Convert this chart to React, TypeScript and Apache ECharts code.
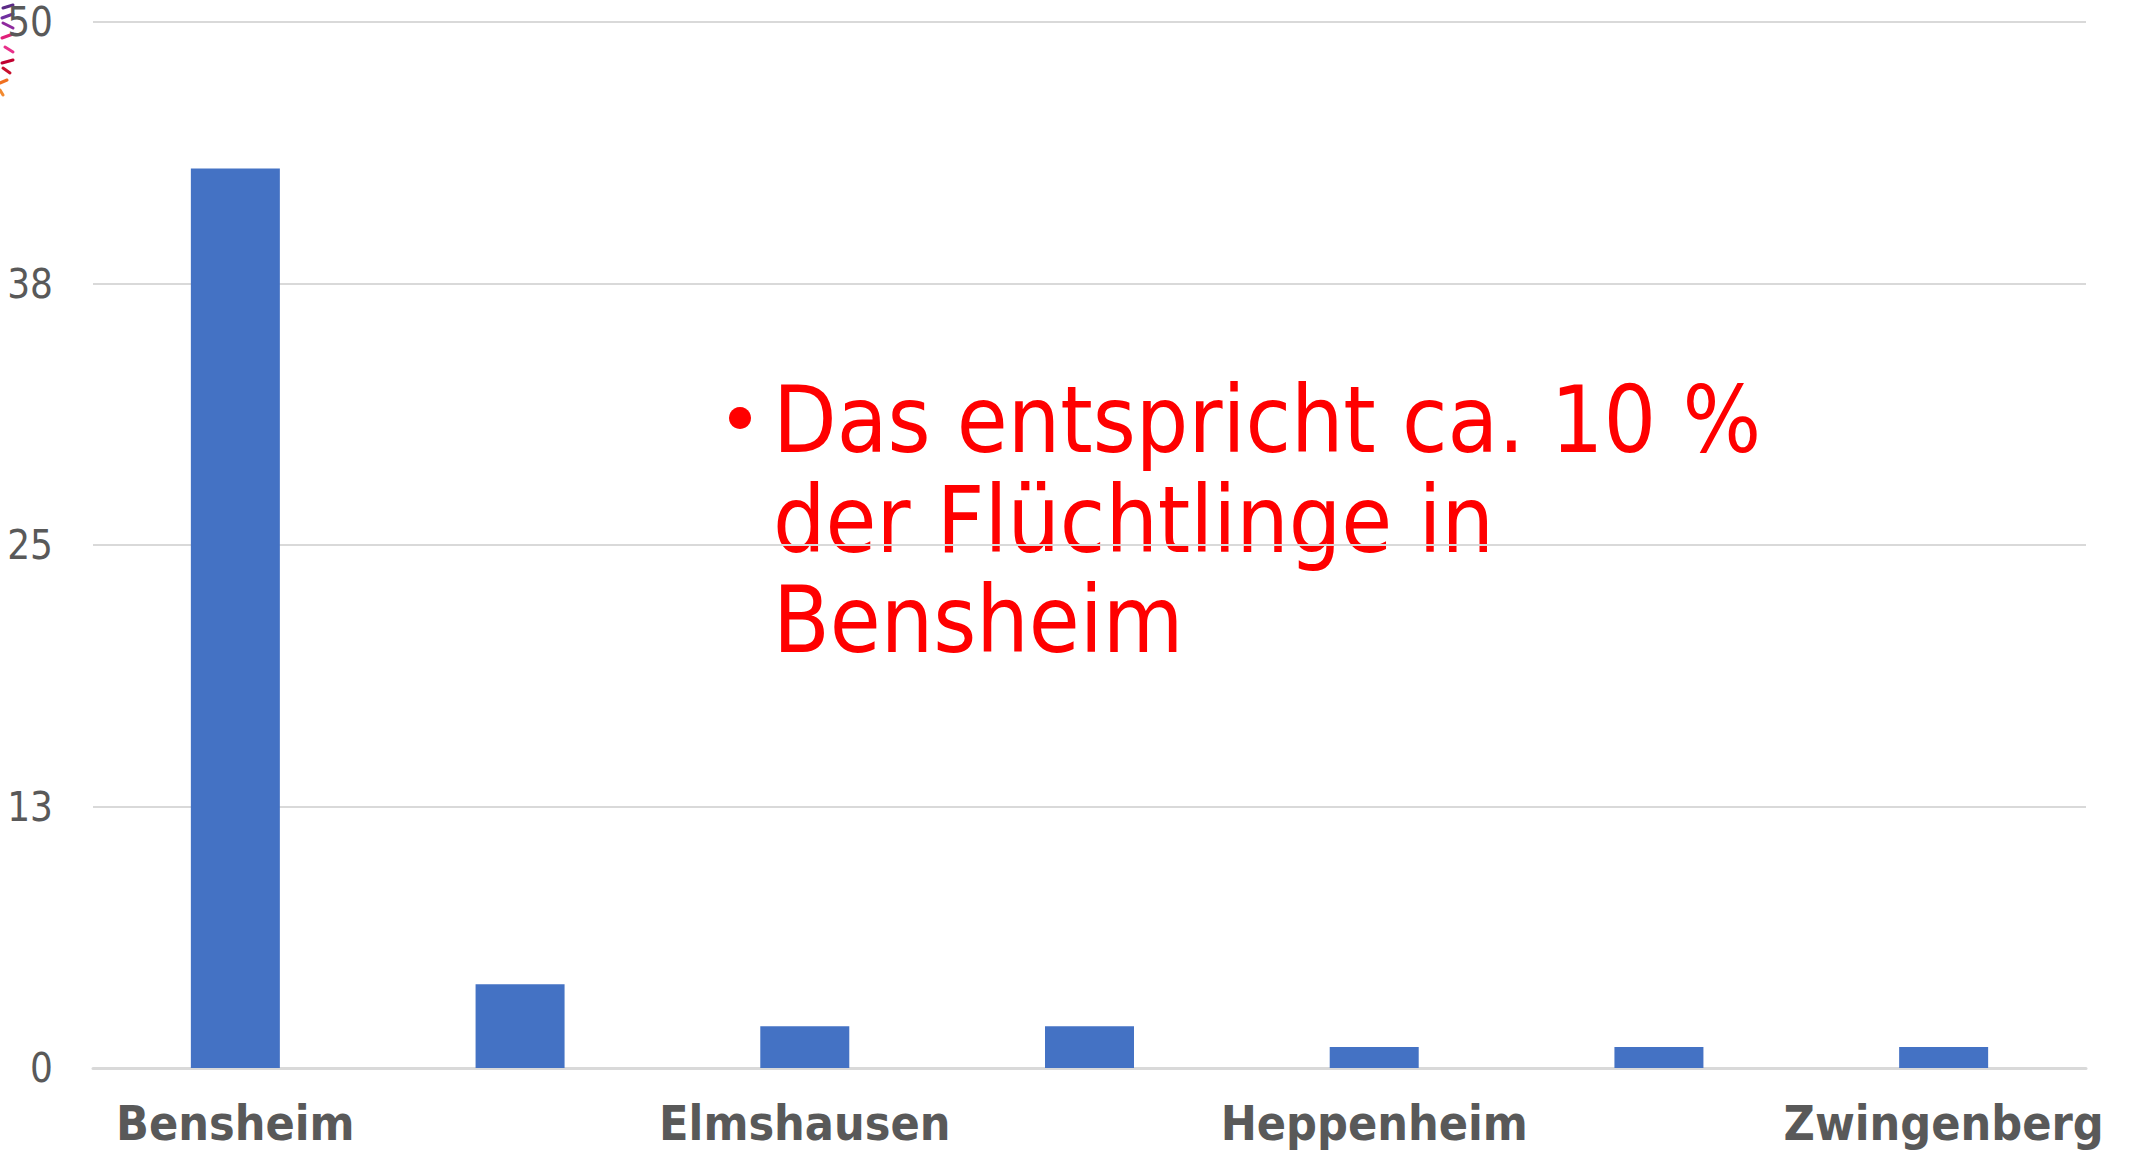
import React, { useEffect, useRef } from "react";
import * as echarts from "echarts";

const categories = ["Bensheim", "Einhausen", "Elmshausen", "Fehlheim", "Heppenheim", "Lorsch", "Zwingenberg"];
const values = [43, 4, 2, 2, 1, 1, 1];
const yTicks = [0, 12.5, 25, 37.5, 50];
const noteLines = ["Das entspricht ca. 10 %", "der Flüchtlinge in", "Bensheim"];

export default function App() {
  const ref = useRef<HTMLDivElement>(null);
  useEffect(() => {
    document.body.style.margin = "0";
    const chart = echarts.init(ref.current!, null, { renderer: "svg" });
    const logoRays = [
      { p: [[3, 8], [13, 5]], c: "#5b2a86" },
      { p: [[2, 18], [13, 14]], c: "#7030a0" },
      { p: [[3, 23], [13, 28]], c: "#8e2a9e" },
      { p: [[2, 38], [13, 34]], c: "#e0207a" },
      { p: [[5, 47], [13, 52]], c: "#e8308a" },
      { p: [[2, 63], [13, 60]], c: "#c00030" },
      { p: [[3, 68], [10, 73]], c: "#c8102e" },
      { p: [[0, 83], [7, 80]], c: "#f07020" },
      { p: [[0, 90], [3, 95]], c: "#f28a30" },
    ];
    chart.setOption({
      animation: false,
      grid: { left: 93, right: 60, top: 22, bottom: 88, containLabel: false },
      xAxis: {
        type: "category",
        data: categories,
        axisLine: { show: true, lineStyle: { color: "#d9d9d9", width: 3 } },
        axisTick: { show: false },
        axisLabel: {
          interval: 1,
          color: "#595959",
          fontFamily: "DejaVu Sans Condensed",
          fontWeight: "bold",
          fontSize: 48,
          margin: 31,
        },
      },
      yAxis: {
        type: "value",
        min: yTicks[0],
        max: yTicks[yTicks.length - 1],
        interval: yTicks[1] - yTicks[0],
        axisLine: { show: false },
        axisTick: { show: false },
        splitLine: { lineStyle: { color: "#d9d9d9", width: 2 } },
        axisLabel: {
          color: "#595959",
          fontFamily: "DejaVu Sans Condensed",
          fontSize: 40,
          lineHeight: 36,
          margin: 40,
          formatter: (v: number) => String(Math.round(v)),
        },
      },
      series: [
        {
          type: "bar",
          data: values,
          barWidth: 89,
          itemStyle: { color: "#4472c4" },
        },
      ],
      graphic: [
        ...logoRays.map((r) => ({
          type: "polyline",
          shape: { points: r.p },
          style: { stroke: r.c, lineWidth: 3, fill: null, lineCap: "round" },
        })),
        {
          type: "circle",
          shape: { cx: 740, cy: 418, r: 11 },
          style: { fill: "#ff0000" },
        },
        ...noteLines.map((t, i) => ({
          type: "text",
          x: 773,
          y: 420 + i * 100,
          style: {
            text: t,
            fill: "#ff0000",
            font: "92px 'DejaVu Sans Condensed'",
            textAlign: "left",
            textVerticalAlign: "middle",
          },
        })),
      ],
    });
    return () => chart.dispose();
  }, []);
  return <div ref={ref} style={{ width: 2146, height: 1156 }} />;
}
